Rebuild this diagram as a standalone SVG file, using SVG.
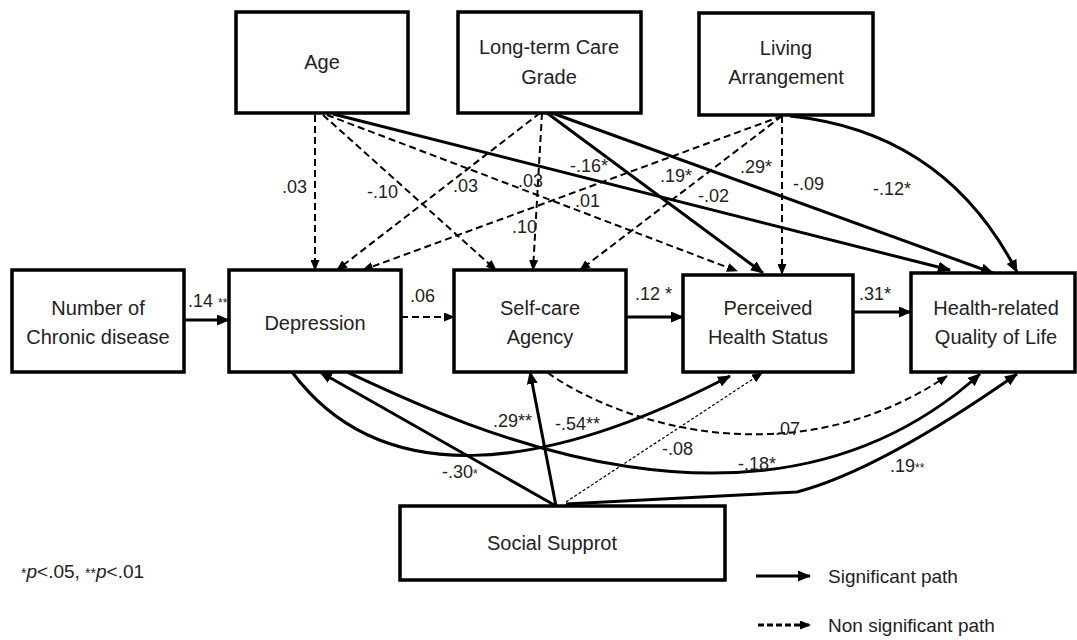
<svg xmlns="http://www.w3.org/2000/svg" width="1077" height="640" viewBox="0 0 1077 640">
<style>
.box{fill:#fff;stroke:#000;stroke-width:3.5}
.bt{font-family:"Liberation Sans",Arial,sans-serif;font-size:20px;fill:#222;text-anchor:middle}
.lb{font-family:"Liberation Sans",Arial,sans-serif;font-size:18px;fill:#222}
.sm{font-size:12px}
.s{fill:none;stroke:#000;stroke-width:3;marker-end:url(#ah)}
.d{fill:none;stroke:#000;stroke-width:2;stroke-dasharray:7 4;marker-end:url(#ahs)}
.t{fill:none;stroke:#000;stroke-width:1.2;stroke-dasharray:3 2;marker-end:url(#ahs)}
</style>
<defs>
<marker id="ah" viewBox="0 0 13 11" markerWidth="13" markerHeight="11" refX="12" refY="5.5" orient="auto" markerUnits="userSpaceOnUse"><path d="M0,0 L13,5.5 L0,11 z" fill="#000"/></marker>
<marker id="ahs" viewBox="0 0 11 9" markerWidth="11" markerHeight="9" refX="10" refY="4.5" orient="auto" markerUnits="userSpaceOnUse"><path d="M0,0 L11,4.5 L0,9 z" fill="#000"/></marker>
</defs>
<rect width="1077" height="640" fill="#fff"/>
<g id="connectors">
<path class="d" d="M315,115 L315,270"/>
<path class="d" d="M323,115 L496,270"/>
<path class="d" d="M327,115 L737,271"/>
<path class="s" d="M333,114 L950,270"/>
<path class="d" d="M540,113 L337,270"/>
<path class="d" d="M542,113 L533,270"/>
<path class="s" d="M547,113 L763,273"/>
<path class="s" d="M552,113 L993,273"/>
<path class="d" d="M782,116 L363,270"/>
<path class="d" d="M782,116 L580,270"/>
<path class="d" d="M782,116 L782,274"/>
<path class="s" d="M790,116 Q945,132 1017,272"/>
<path class="s" d="M185,320 L229,320"/>
<path class="d" d="M401,317 L454,317"/>
<path class="s" d="M626,317 L683,317"/>
<path class="s" d="M853,312 L911,312"/>
<path class="s" d="M556,506 L320,372"/>
<path class="s" d="M556,506 L530,372"/>
<path class="t" d="M566,502 L762,373"/>
<path class="s" d="M566,504 L797,492 Q880,470 1017,374"/>
<path class="s" d="M292,372 C380,490 540,475 730,376"/>
<path class="s" d="M347,372 C450,420 760,572 980,374"/>
<path class="d" d="M548,373 C630,430 800,475 947,376"/>
</g>
<g id="labels" class="lb">
<text x="282" y="193">.03</text>
<text x="367" y="198">-.10</text>
<text x="453" y="192">.03</text>
<text x="518" y="187">.03</text>
<text x="575" y="207">.01</text>
<text x="570" y="172">-.16*</text>
<text x="512" y="233">.10</text>
<text x="660" y="182">.19*</text>
<text x="698" y="202">-.02</text>
<text x="740" y="173">.29*</text>
<text x="793" y="190">-.09</text>
<text x="873" y="195">-.12*</text>
<text x="188" y="307">.14 <tspan class="sm">**</tspan></text>
<text x="410" y="302">.06</text>
<text x="635" y="300">.12 *</text>
<text x="859" y="300">.31*</text>
<text x="493" y="427">.29**</text>
<text x="555" y="430">-.54**</text>
<text x="442" y="478">-.30<tspan class="sm">*</tspan></text>
<text x="662" y="455">-.08</text>
<text x="775" y="435">.07</text>
<text x="738" y="470">-.18*</text>
<text x="890" y="472">.19<tspan class="sm">**</tspan></text>
</g>
<g id="age"><rect class="box" x="236" y="12" width="172" height="101"/><text class="bt" x="322" y="69">Age</text></g>
<g id="ltcg"><rect class="box" x="458" y="12" width="183" height="101"/><text class="bt" x="549" y="54">Long-term Care</text><text class="bt" x="549" y="84">Grade</text></g>
<g id="living"><rect class="box" x="699" y="13" width="174" height="102"/><text class="bt" x="786" y="55">Living</text><text class="bt" x="786" y="84">Arrangement</text></g>
<g id="ncd"><rect class="box" x="12" y="270" width="172" height="102"/><text class="bt" x="98" y="315">Number of</text><text class="bt" x="98" y="344">Chronic disease</text></g>
<g id="depression"><rect class="box" x="229" y="270" width="172" height="102"/><text class="bt" x="315" y="330">Depression</text></g>
<g id="selfcare"><rect class="box" x="454" y="270" width="172" height="102"/><text class="bt" x="540" y="315">Self-care</text><text class="bt" x="540" y="344">Agency</text></g>
<g id="phs"><rect class="box" x="683" y="275" width="170" height="97"/><text class="bt" x="768" y="315">Perceived</text><text class="bt" x="768" y="344">Health Status</text></g>
<g id="hrqol"><rect class="box" x="911" y="273" width="164" height="99"/><text class="bt" x="996" y="315">Health-related</text><text class="bt" x="996" y="344">Quality of Life</text></g>
<g id="social"><rect class="box" x="400" y="506" width="325" height="74"/><text class="bt" x="552" y="550">Social Supprot</text></g>
<g id="legend">
<text class="lb" x="21" y="578" style="font-size:19px"><tspan style="font-size:14px">*</tspan><tspan font-style="italic">p</tspan>&lt;.05, <tspan style="font-size:14px">**</tspan><tspan font-style="italic">p</tspan>&lt;.01</text>
<path class="s" d="M756,576 L810,576"/>
<path class="d" d="M758,625 L810,625" style="stroke-width:3;stroke-dasharray:6 3"/>
<text class="lb" x="828" y="583" style="font-size:19px">Significant path</text>
<text class="lb" x="828" y="632" style="font-size:19px">Non significant path</text>
</g>
</svg>
